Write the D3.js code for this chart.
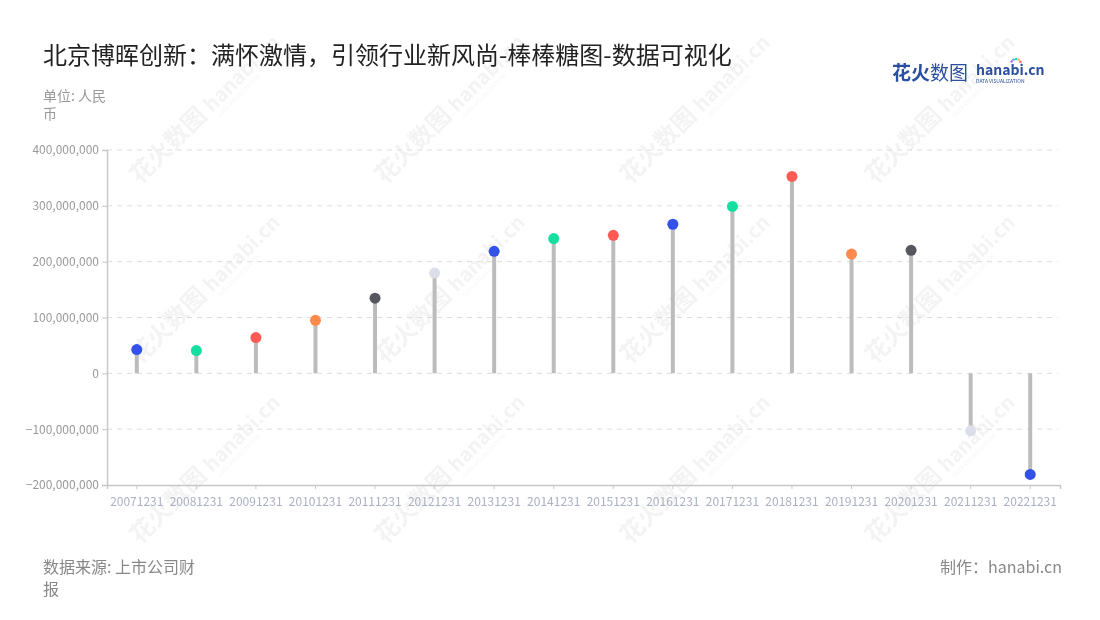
<!DOCTYPE html>
<html><head><meta charset="utf-8">
<script src="https://cdn.jsdelivr.net/npm/d3@7"></script>
<style>
body{margin:0;background:#fff;}
text{font-family:"Noto Sans CJK SC","Noto Sans",sans-serif;}
</style></head>
<body><svg id="c" width="1100" height="620"></svg>
<script>
const categories = ["20071231","20081231","20091231","20101231","20111231","20121231","20131231","20141231","20151231","20161231","20171231","20181231","20191231","20201231","20211231","20221231"];
const values = [42500000,40800000,64000000,95000000,134600000,179500000,218500000,241300000,247200000,267000000,299000000,352700000,213600000,220300000,-102900000,-181000000];
const palette = ["#3552E8","#14DFA0","#FF5B55","#FF8A4C","#56565F","#DCDFEA"];
const colorIndex = [0,1,2,3,4,5,0,1,2,0,1,2,3,4,5,0];
const yTicks = [-200000000,-100000000,0,100000000,200000000,300000000,400000000];
const title = "北京博晖创新：满怀激情，引领行业新风尚-棒棒糖图-数据可视化";

const svg = d3.select("#c");
const m = {l:107, r:1060, t:150, b:485};

// watermarks
const wm = svg.append("g").attr("opacity",0.05).attr("fill","#000");
for (let i=0;i<4;i++){
  for (let j=0;j<3;j++){
    const cx = 140 + i*245, cy = 185 + j*180;
    const g = wm.append("g").attr("transform",`translate(${cx},${cy}) rotate(-45)`);
    g.append("text").attr("font-size",24).attr("font-weight","bold").text("花火数图");
    g.append("text").attr("x",102).attr("font-size",20).attr("font-weight","bold").attr("font-family","Lato,sans-serif").text("hanabi.cn");
    g.append("text").attr("x",104).attr("y",9).attr("font-size",6).attr("font-family","Lato,sans-serif").text("DATA VISUALIZATION");
  }
}

const x = d3.scaleBand().domain(categories).range([m.l, m.r]).padding(0);
const y = d3.scaleLinear().domain([-200000000, 400000000]).range([m.b, m.t]);

// grid
svg.append("g").selectAll("line").data(yTicks.filter(d=>d>-200000000)).join("line")
  .attr("x1",m.l).attr("x2",m.r-2).attr("y1",d=>y(d)).attr("y2",d=>y(d))
  .attr("stroke","#dcdcdc").attr("stroke-dasharray","5,5").attr("stroke-width",1);

// y axis
const yAxis = svg.append("g").attr("transform",`translate(${m.l},0)`)
  .call(d3.axisLeft(y).tickValues(yTicks).tickFormat(d3.format(",")).tickSize(5).tickPadding(3));
yAxis.select(".domain").attr("stroke","#c8c8c8").attr("stroke-width",1.5);
yAxis.selectAll(".tick line").attr("stroke","#c8c8c8");
yAxis.selectAll("text").attr("fill","#9a9a9a").attr("font-size",12).attr("font-family","Lato,'Noto Sans',sans-serif");

// x axis
const xAxis = svg.append("g").attr("transform",`translate(0,${m.b})`)
  .call(d3.axisBottom(x).tickSize(4).tickPadding(8));
xAxis.select(".domain").attr("stroke","#c8c8c8").attr("stroke-width",1.5);
xAxis.selectAll(".tick line").attr("stroke","#c8c8c8");
xAxis.selectAll("text").attr("fill","#aab0c2").attr("font-size",12).attr("font-family","Lato,'Noto Sans',sans-serif");

// stems
svg.append("g").selectAll("line").data(values).join("line")
  .attr("x1",(d,i)=>x(categories[i])+x.bandwidth()/2)
  .attr("x2",(d,i)=>x(categories[i])+x.bandwidth()/2)
  .attr("y1",y(0)).attr("y2",d=>y(d))
  .attr("stroke","#bcbcbc").attr("stroke-width",4);

// dots
svg.append("g").selectAll("circle").data(values).join("circle")
  .attr("cx",(d,i)=>x(categories[i])+x.bandwidth()/2)
  .attr("cy",d=>y(d)).attr("r",5.5)
  .attr("fill",(d,i)=>palette[colorIndex[i]]);

// title
svg.append("text").attr("x",43).attr("y",64).attr("font-size",24).attr("fill","#222").text(title);
// unit
svg.append("text").attr("x",43).attr("y",101).attr("font-size",14).attr("fill","#999").text("单位: 人民");
svg.append("text").attr("x",43).attr("y",119).attr("font-size",14).attr("fill","#999").text("币");

// footer
svg.append("text").attr("x",43).attr("y",573).attr("font-size",16).attr("fill","#888").text("数据来源: 上市公司财");
svg.append("text").attr("x",43).attr("y",595).attr("font-size",16).attr("fill","#888").text("报");
svg.append("text").attr("x",1062).attr("y",573).attr("text-anchor","end").attr("font-size",16).attr("fill","#888").text("制作：hanabi.cn");

// logo
const logo = svg.append("g");
logo.append("text").attr("x",892).attr("y",80).attr("font-size",19).attr("font-weight","bold").attr("fill","#2a4ea0").text("花火");
logo.append("text").attr("x",930).attr("y",80).attr("font-size",19).attr("fill","#2a4ea0").text("数图");
logo.append("text").attr("x",976).attr("y",75).attr("font-size",14).attr("font-weight","bold").attr("fill","#2a4ea0").attr("font-family","Lato,sans-serif").text("hanabi.cn");
logo.append("text").attr("x",976).attr("y",83).attr("font-size",5).attr("fill","#2a4ea0").attr("font-family","Lato,sans-serif").text("DATA VISUALIZATION");
const sparkColors = ["#ff5b55","#ffb14a","#14dfa0","#3aa0ff","#b35cff"];
logo.selectAll("circle.sp").data(sparkColors).join("circle").attr("class","sp")
  .attr("cx",(d,i)=>1016+Math.cos(-Math.PI*(0.15+i*0.17))*5)
  .attr("cy",(d,i)=>64+Math.sin(-Math.PI*(0.15+i*0.17))*5)
  .attr("r",1.2).attr("fill",d=>d);
</script></body></html>
